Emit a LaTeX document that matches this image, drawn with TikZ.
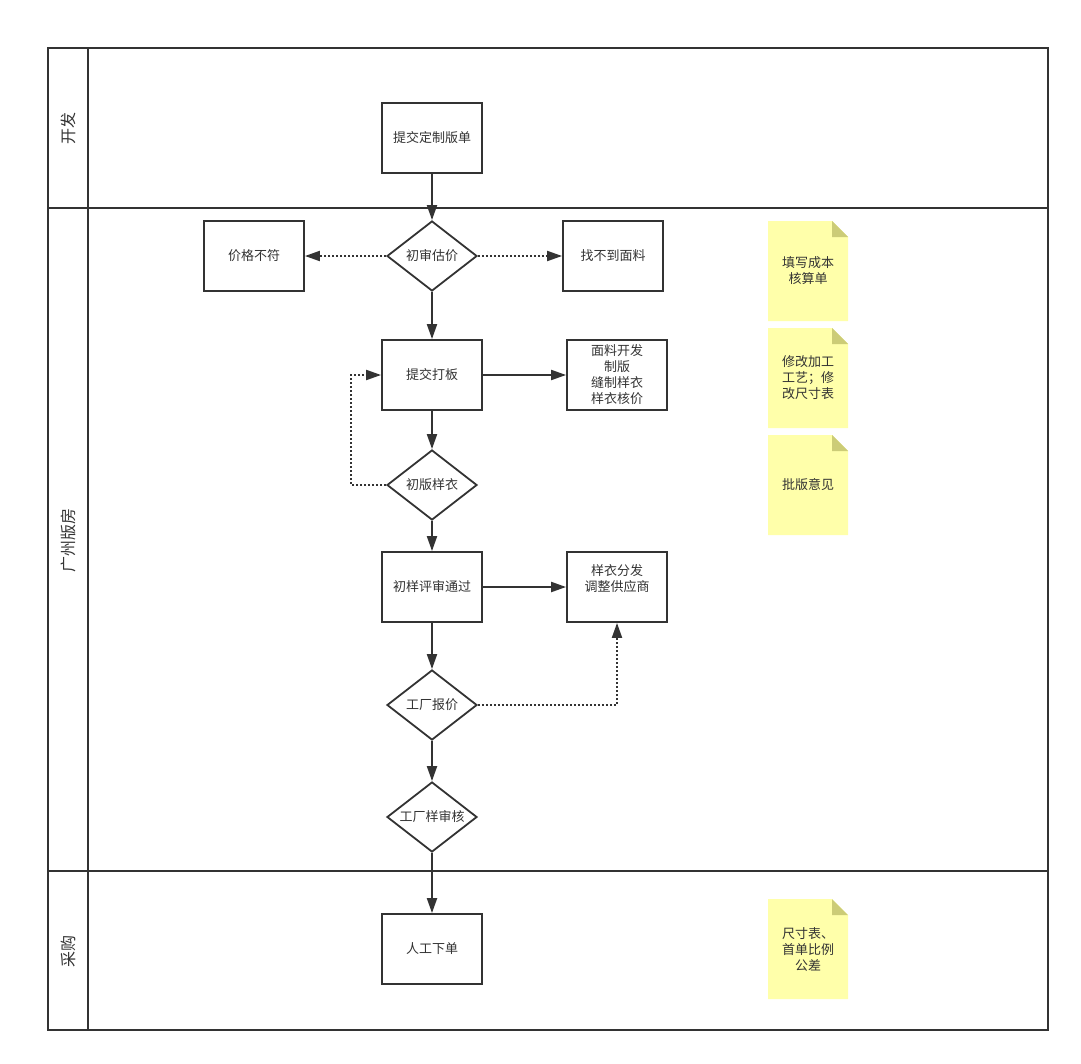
\documentclass[tikz,border=0pt]{standalone}
\usepackage{fontspec}
\setmainfont{Noto Sans CJK SC}
\usetikzlibrary{shapes.geometric,arrows.meta}
\definecolor{linegray}{HTML}{333333}
\definecolor{noteyellow}{HTML}{FFFFAA}
\definecolor{notefold}{HTML}{CCCC77}

\begin{document}
\begin{tikzpicture}[x=1pt,y=-1pt,
	every node/.style={font=\fontsize{13}{16}\selectfont,text=linegray,align=center},
	lanelabel/.style={rotate=90,font=\fontsize{16}{18}\selectfont},
	procbox/.style={rectangle,draw=linegray,line width=1.8pt,fill=white,minimum width=100pt,minimum height=70pt,inner sep=0pt},
	decision/.style={diamond,draw=linegray,line width=1.8pt,fill=white,aspect=1.3,minimum width=90pt,minimum height=70pt,inner sep=0pt},
	flow/.style={draw=linegray,line width=2pt,-{Triangle[length=15pt,width=10pt]}},
	dotflow/.style={flow,dash pattern=on 2pt off 2pt}]
	\useasboundingbox (0,0) rectangle (1081,1063);
	% lanes
	\draw[linegray,line width=1.8pt] (48,48) rectangle (1048,1030);
	\draw[linegray,line width=1.8pt] (88,48) -- (88,1030);
	\draw[linegray,line width=1.8pt] (48,208) -- (1048,208);
	\draw[linegray,line width=1.8pt] (48,871) -- (1048,871);
	\node[lanelabel] (lanedev) at (68,128) {开发};
	\node[lanelabel] (laneroom) at (68,540) {广州版房};
	\node[lanelabel] (lanebuy) at (68,951) {采购};
	
	% notes
	\foreach \y in {221,328,435,899} {
		\fill[noteyellow] (768,\y) -- (832,\y) -- (848,\y+16) -- (848,\y+100) -- (768,\y+100) -- cycle;
		\fill[notefold] (832,\y) -- (848,\y+16) -- (832,\y+16) -- cycle;
	}
	\node (notecost) at (808,271) {填写成本\\核算单};
	\node (notecraft) at (808,378) {修改加工\\工艺；修\\改尺寸表};
	\node (noteopinion) at (808,485) {批版意见};
	\node (notesize) at (808,949) {尺寸表、\\首单比例\\公差};
	
	% steps
	\node[procbox] (order) at (432,138) {提交定制版单};
	\node[decision] (review) at (432,256) {初审估价};
	\node[procbox] (lowprice) at (254,256) {价格不符};
	\node[procbox] (nofabric) at (613,256) {找不到面料};
	\node[procbox] (makesample) at (432,375) {提交打板};
	\node[procbox] (fabricdev) at (617,375) {面料开发\\制版\\缝制样衣\\样衣核价};
	\node[decision] (firstsample) at (432,485) {初版样衣};
	\node[procbox] (passreview) at (432,587) {初样评审通过};
	\node[procbox] (distribute) at (617,587) {样衣分发\\调整供应商\\\phantom{调}};
	\node[decision] (quote) at (432,705) {工厂报价};
	\node[decision] (factorycheck) at (432,817) {工厂样审核};
	\node[procbox] (placeorder) at (432,949) {人工下单};
	
	% connectors
	\draw[flow] (order) -- (review);
	\draw[dotflow] (review) -- (lowprice);
	\draw[dotflow] (review) -- (nofabric);
	\draw[flow] (review) -- (makesample);
	\draw[flow] (makesample) -- (fabricdev);
	\draw[flow] (makesample) -- (firstsample);
	\draw[dotflow] (firstsample.west) -- ++(-35,0) |- (makesample.west);
	\draw[flow] (firstsample) -- (passreview);
	\draw[flow] (passreview) -- (distribute);
	\draw[flow] (passreview) -- (quote);
	\draw[dotflow] (quote.east) -| (distribute.south);
	\draw[flow] (quote) -- (factorycheck);
	\draw[flow] (factorycheck) -- (placeorder);
\end{tikzpicture}
\end{document}
